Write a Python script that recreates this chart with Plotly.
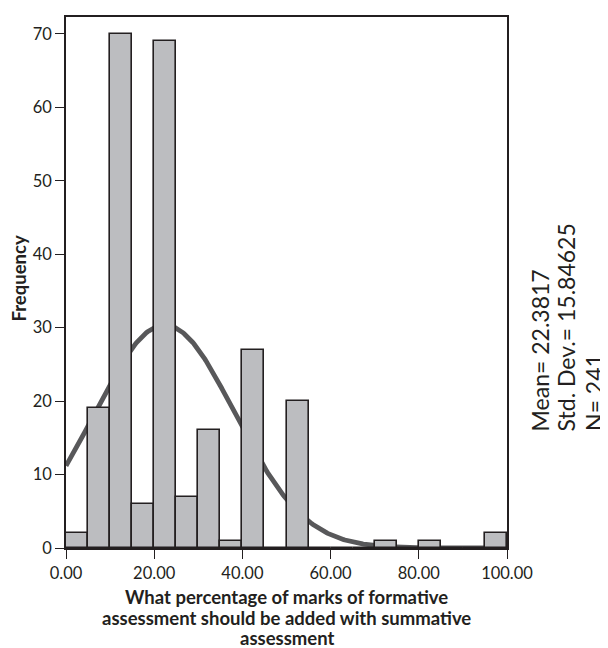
import numpy as np
import plotly.graph_objects as go

# Histogram data (bin width 5)
bin_starts = [0, 5, 10, 15, 20, 25, 30, 35, 40, 45, 50, 55, 60, 65, 70, 75, 80, 85, 90, 95]
counts = [2, 19, 70, 6, 69, 7, 16, 1, 27, 0, 20, 0, 0, 0, 1, 0, 1, 0, 0, 2]
BIN_WIDTH = 5

# Summary statistics shown on the chart
MEAN = 22.3817
SD = 15.84625
N = 241

x_ticks = [0, 20, 40, 60, 80, 100]
x_tick_labels = ["0.00", "20.00", "40.00", "60.00", "80.00", "100.00"]
y_ticks = [0, 10, 20, 30, 40, 50, 60, 70]

x_title_lines = ["What percentage of marks of formative",
                 "assessment should be added with summative",
                 "assessment"]
stat_lines = [f"Mean= {MEAN}", f"Std. Dev.= {SD}", f"N= {N}"]

centers = [b + BIN_WIDTH / 2 for b in bin_starts]

# Normal curve scaled to counts (from the stated mean, SD and N)
curve_x = np.linspace(0, 100, 401)
curve_y = N * BIN_WIDTH * np.exp(-0.5 * ((curve_x - MEAN) / SD) ** 2) / (SD * np.sqrt(2 * np.pi))

FONT = "Lato"
DARK = "#231f20"
YMAX = 72.3

fig = go.Figure()
fig.add_trace(go.Scatter(x=curve_x, y=curve_y, mode="lines",
                         line=dict(color="#58585a", width=4.8),
                         xaxis="x", yaxis="y", hoverinfo="skip", showlegend=False))
fig.add_trace(go.Bar(x=centers, y=counts, width=BIN_WIDTH,
                     marker=dict(color="#bcbdc0", line=dict(color=DARK, width=1.6)),
                     xaxis="x2", yaxis="y2", showlegend=False))

axis_common = dict(showgrid=False, zeroline=False, showline=True, linecolor=DARK, linewidth=1.6,
                   ticks="outside", ticklen=9, tickwidth=1.4, tickcolor=DARK,
                   tickfont=dict(family=FONT, size=16.5, color=DARK), mirror=True)

annotations = [
    dict(text="<b>Frequency</b>", textangle=-90, xref="paper", yref="paper",
         x=-0.106, y=0.508, xanchor="center", yanchor="middle", showarrow=False,
         font=dict(family=FONT, size=18.5, color=DARK)),
]
for line, yy in zip(x_title_lines, [-0.0917, -0.1311, -0.1696]):
    annotations.append(dict(text=f"<b>{line}</b>", xref="paper", yref="paper", x=0.5, y=yy,
                            xanchor="center", yanchor="middle", showarrow=False,
                            font=dict(family=FONT, size=18.5, color=DARK)))
for line, xx in zip(stat_lines, [1.0748, 1.1338, 1.1973]):
    annotations.append(dict(text=line, textangle=-90, xref="paper", yref="paper", x=xx, y=0.2158,
                            xanchor="center", yanchor="bottom", showarrow=False,
                            font=dict(family=FONT, size=23, color=DARK)))

fig.update_layout(
    width=608, height=648,
    margin=dict(l=58, r=109, t=7, b=108),
    plot_bgcolor="white", paper_bgcolor="white",
    bargap=0,
    xaxis=dict(range=[0, 100], tickvals=x_ticks, ticktext=x_tick_labels, **axis_common),
    yaxis=dict(range=[0, YMAX], tickvals=y_ticks, **axis_common),
    xaxis2=dict(range=[0, 100], overlaying="x", visible=False),
    yaxis2=dict(range=[0, YMAX], overlaying="y", visible=False),
    annotations=annotations,
)

fig.write_html("out.html")
